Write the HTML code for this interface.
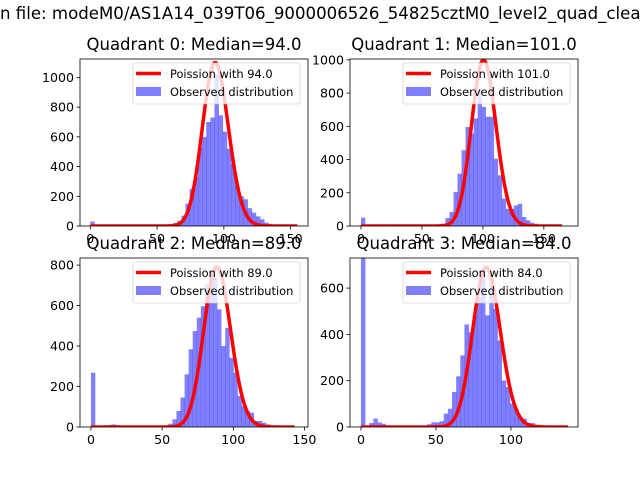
<!DOCTYPE html>
<html><head><meta charset="utf-8"><style>
html,body{margin:0;padding:0;background:#fff;}
svg{display:block;font-family:"DejaVu Sans","Liberation Sans",sans-serif;}
</style></head><body>
<svg id="fig" width="640" height="480" viewBox="0 0 640 480" xmlns="http://www.w3.org/2000/svg">
<rect width="640" height="480" fill="#fff"/>
<text id="suptitle" x="0" y="19" font-size="16.6"><tspan id="pre">Histogram of rates i</tspan>n file: modeM0/AS1A14_039T06_9000006526_54825cztM0_level2_quad_clean.evt</text>
</svg>
<script>
// ---- data ----
const titles = ["Quadrant 0: Median=94.0","Quadrant 1: Median=101.0","Quadrant 2: Median=89.0","Quadrant 3: Median=84.0"];
const medians = [94, 101, 89, 84];
const legendLabels = ["Poission with 94.0","Poission with 101.0","Poission with 89.0","Poission with 84.0"];
const binWidths = [3.1, 3.3, 2.86, 2.76];
const curvePeaks = [1100, 1000, 790, 690];
const curveMax = [155, 165, 143, 138];
const counts0 = [30,0,0,0,0,0,0,0,0,0,0,0,0,0,0,0,0,0,0,5,20,35,70,150,250,330,530,600,700,730,1020,745,635,520,420,270,200,180,120,90,65,45,22,15,8,5,3,0,0,0];
const counts1 = [50,0,0,0,0,10,0,0,0,0,0,0,0,0,0,0,0,0,0,0,14,48,84,205,315,456,596,556,647,827,717,657,657,405,305,165,104,104,124,134,54,34,20,14,8,5,0,0,0,0];
const counts2 = [268,0,0,8,10,13,10,0,0,0,0,0,0,0,0,0,0,0,0,16,38,79,145,260,384,474,540,597,704,770,737,581,400,490,342,268,153,104,79,71,30,30,21,13,5,0,0,0,0,0];
const counts3 = [1100,0,17,36,19,14,0,0,0,0,0,0,0,0,0,0,12,20,20,25,58,79,151,219,309,443,410,482,561,647,482,633,511,374,201,173,101,79,43,36,17,17,10,0,0,0,0,0,0,0];
const xTicks = [[0,50,100,150],[0,50,100,150],[0,50,100,150],[0,50,100]];
const yTicks = [[0,200,400,600,800,1000],[0,200,400,600,800,1000],[0,200,400,600,800],[0,200,400,600]];
const xDomains = [[-7.7,163],[-9,178],[-7.7,152.5],[-7.3,144.7]];
const yDomains = [[0,1124],[0,1005],[0,835],[0,730]];
// ---- layout ----
const pre=document.getElementById('pre');
document.getElementById('suptitle').setAttribute('x',(-pre.getComputedTextLength()).toFixed(1));
const allCounts=[counts0,counts1,counts2,counts3];
const boxes=[{l:80,r:308,t:59,b:226},{l:350,r:578,t:59,b:226},{l:80,r:308,t:258,b:427},{l:350,r:578,t:258,b:427}];
const NS="http://www.w3.org/2000/svg";
const fig=document.getElementById('fig');
function mk(tag,attrs,parent){const e=document.createElementNS(NS,tag);for(const k in attrs)e.setAttribute(k,attrs[k]);(parent||fig).appendChild(e);return e;}
function logFact(n){let s=0;for(let i=2;i<=n;i++)s+=Math.log(i);return s;}
function pmf(k,mu){return Math.exp(k*Math.log(mu)-mu-logFact(k));}
for(let q=0;q<4;q++){
  const B=boxes[q],xd=xDomains[q],yd=yDomains[q];
  const sx=v=>B.l+(v-xd[0])/(xd[1]-xd[0])*(B.r-B.l);
  const sy=v=>B.b-(v-yd[0])/(yd[1]-yd[0])*(B.b-B.t);
  const g=mk('g',{});
  
  
  const clipId='c'+q;
  const cp=mk('clipPath',{id:clipId},g);mk('rect',{x:B.l,y:B.t,width:B.r-B.l,height:B.b-B.t},cp);
  const plot=mk('g',{'clip-path':'url(#'+clipId+')'},g);
  const cs=allCounts[q],w=binWidths[q];
  cs.forEach((c,i)=>{ if(c<=0)return;
    const x0=sx(i*w),x1=sx((i+1)*w);
    const r=mk('rect',{x:x0,y:sy(c),width:x1-x0+0.3,height:sy(0)-sy(c),fill:'rgba(0,0,255,0.5)'},plot);
    
    
  });
  const mu=medians[q],pm=pmf(Math.round(mu),mu);let d='';
  for(let k=0;k<=curveMax[q];k++){const v=curvePeaks[q]*pmf(k,mu)/pm;d+=(k?'L':'M')+sx(k).toFixed(2)+','+sy(v).toFixed(2);}
  const ln=mk('path',{d:d,fill:'none',stroke:'#ff0000','stroke-width':3.5,'stroke-linejoin':'round'},plot);
  
  
  const fr=mk('rect',{x:B.l,y:B.t,width:B.r-B.l,height:B.b-B.t,fill:'none',stroke:'#000','stroke-width':0.8},g);
  
  
  xTicks[q].forEach(v=>{const x=sx(v);mk('line',{x1:x,x2:x,y1:B.b,y2:B.b+3.5,stroke:'#000','stroke-width':0.8},g);
    const t=mk('text',{x:x,y:B.b+17,'font-size':12.6,'text-anchor':'middle'},g);t.textContent=v;
    
    });
  yTicks[q].forEach(v=>{const y=sy(v);mk('line',{x1:B.l-3.5,x2:B.l,y1:y,y2:y,stroke:'#000','stroke-width':0.8},g);
    const t=mk('text',{x:B.l-6,y:y+4.5,'font-size':12.6,'text-anchor':'end'},g);t.textContent=v;
    
    });
  const tt=mk('text',{x:(B.l+B.r)/2,y:B.t-9,'font-size':16.5,'text-anchor':'middle'},g);tt.textContent=titles[q];
  
  
  const lg=mk('g',{},g);
  
  
  const lx=B.l+53,ly=B.t+4,lw=B.r-B.l-61;
  mk('rect',{x:lx,y:ly,width:lw,height:41,rx:2,fill:'rgba(255,255,255,0.8)',stroke:'rgba(204,204,204,0.8)','stroke-width':0.8},lg);
  mk('line',{x1:lx+3,x2:lx+28,y1:ly+10.5,y2:ly+10.5,stroke:'#ff0000','stroke-width':3.5},lg);
  const t1=mk('text',{x:lx+37,y:ly+15,'font-size':11.4},lg);t1.textContent=legendLabels[q];
  
  
  mk('rect',{x:lx+3,y:ly+24,width:25,height:9,fill:'rgba(0,0,255,0.5)'},lg);
  const t2=mk('text',{x:lx+37,y:ly+33,'font-size':11.4},lg);t2.textContent='Observed distribution';
  
  
}
</script>
</body></html>
